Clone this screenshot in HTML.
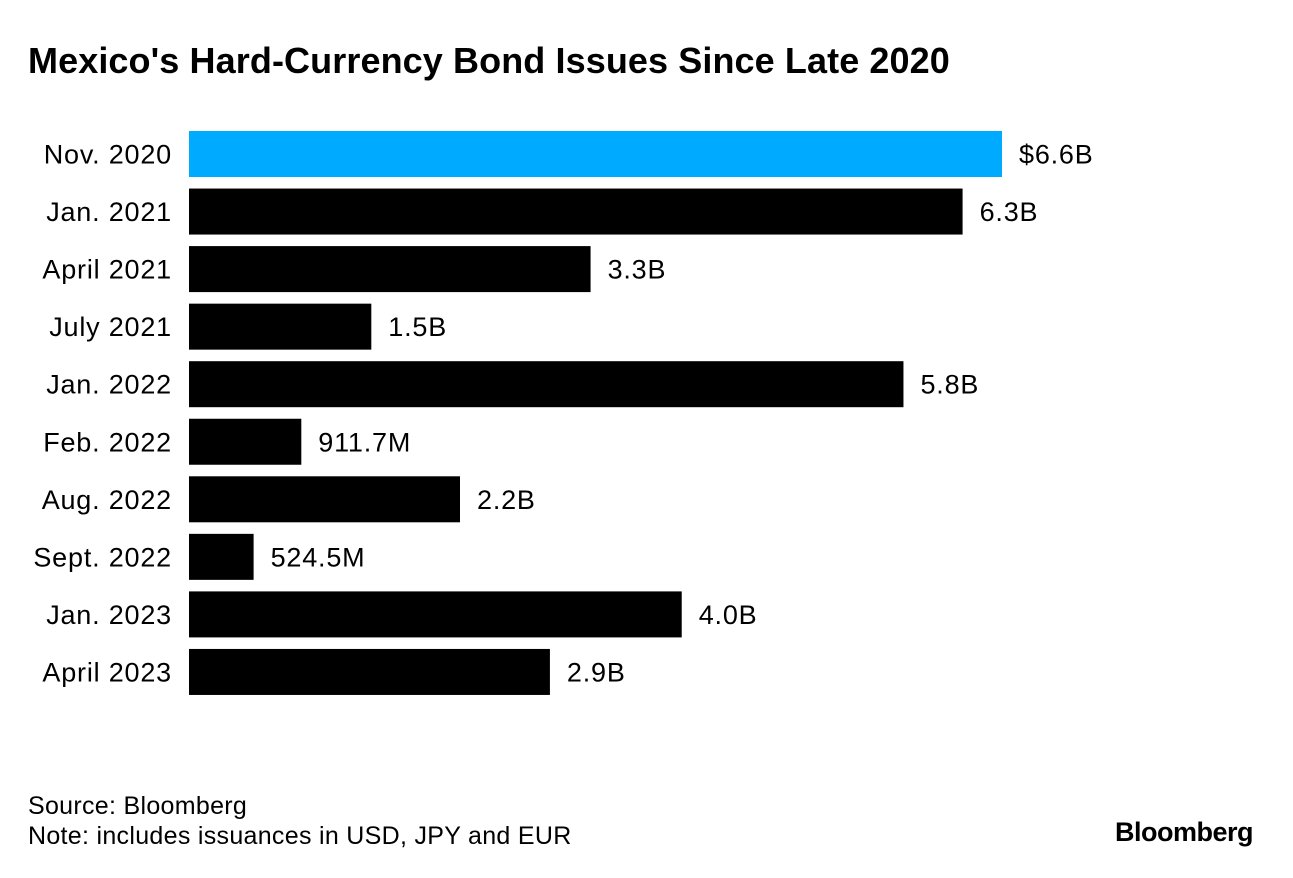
<!DOCTYPE html>
<html><head><meta charset="utf-8"><style>
body{margin:0;background:#fff;font-family:"Liberation Sans",sans-serif;}
#wrap{position:relative;width:1293px;height:878px;overflow:hidden;}
.t{position:absolute;white-space:nowrap;color:#000;}
</style></head><body>
<div id="wrap">
<div class="t" style="left:28px;top:40px;font-size:36px;font-weight:bold;letter-spacing:0.1px;">Mexico's Hard-Currency Bond Issues Since Late 2020</div>
<svg id="chart" width="1293" height="760" style="position:absolute;left:0;top:0"></svg>
<div class="t" style="left:28px;top:792px;font-size:25px;letter-spacing:0.3px;">Source: Bloomberg</div>
<div class="t" style="left:28px;top:822px;font-size:25px;letter-spacing:0.3px;">Note: includes issuances in USD, JPY and EUR</div>
<div class="t" style="right:40px;top:817px;font-size:27px;font-weight:bold;letter-spacing:-0.5px;">Bloomberg</div>
</div>
<script>
const categories=["Nov. 2020","Jan. 2021","April 2021","July 2021","Jan. 2022","Feb. 2022","Aug. 2022","Sept. 2022","Jan. 2023","April 2023"];
const values=[6.6,6.28,3.26,1.48,5.8,0.9117,2.2,0.5245,4.0,2.93];
const valueLabels=["$6.6B","6.3B","3.3B","1.5B","5.8B","911.7M","2.2B","524.5M","4.0B","2.9B"];
const x0=189,pxPerB=(1002-189)/6.6,top0=131,pitch=57.55,barH=46;
const xs=v=>x0+v*pxPerB;
const ys=i=>top0+i*pitch;
const svg=document.getElementById('chart');
const NS="http://www.w3.org/2000/svg";
categories.forEach((c,i)=>{
  const r=document.createElementNS(NS,'rect');
  r.setAttribute('x',x0);r.setAttribute('y',ys(i));
  r.setAttribute('width',xs(values[i])-x0);r.setAttribute('height',barH);
  r.setAttribute('fill',i===0?'#00aaff':'#000');
  
  
  svg.appendChild(r);
  const t=document.createElementNS(NS,'text');
  t.setAttribute('x',172);t.setAttribute('y',ys(i)+barH/2+9.5);
  t.setAttribute('text-anchor','end');t.setAttribute('font-size','27');
  t.setAttribute('letter-spacing','0.8');
  t.setAttribute('font-family','Liberation Sans, sans-serif');
  t.textContent=c;
  
  
  svg.appendChild(t);
  const v=document.createElementNS(NS,'text');
  v.setAttribute('x',xs(values[i])+17);v.setAttribute('y',ys(i)+barH/2+9.5);
  v.setAttribute('font-size','27');
  v.setAttribute('letter-spacing','0.8');
  v.setAttribute('font-family','Liberation Sans, sans-serif');
  v.textContent=valueLabels[i];
  
  
  svg.appendChild(v);
});
</script>
</body></html>
